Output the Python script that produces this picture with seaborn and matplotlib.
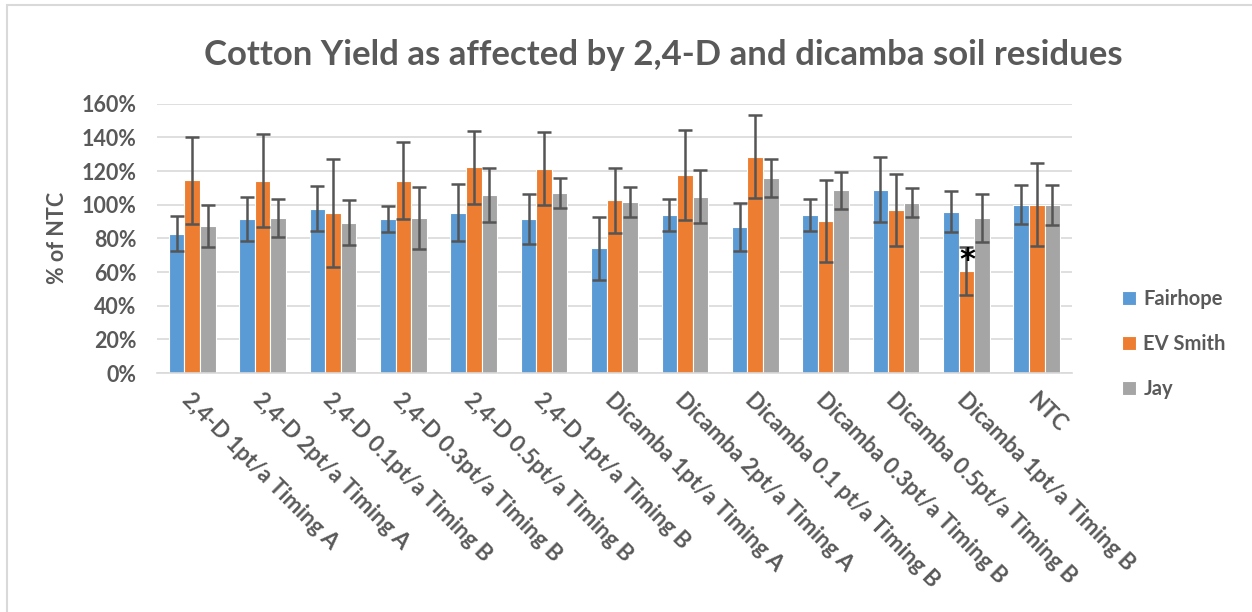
import numpy as np
import pandas as pd
import matplotlib
matplotlib.use("Agg")
import matplotlib.pyplot as plt
import seaborn as sns
from matplotlib.patches import Rectangle
import matplotlib.transforms as mtransforms

treatments = ["2,4-D 1pt/a Timing A", "2,4-D 2pt/a Timing A", "2,4-D 0.1pt/a Timing B",
              "2,4-D 0.3pt/a Timing B", "2,4-D 0.5pt/a Timing B", "2,4-D 1pt/a Timing B",
              "Dicamba 1pt/a Timing A", "Dicamba 2pt/a Timing A", "Dicamba 0.1 pt/a Timing B",
              "Dicamba 0.3pt/a Timing B", "Dicamba 0.5pt/a Timing B", "Dicamba 1pt/a Timing B",
              "NTC"]
sites = ["Fairhope", "EV Smith", "Jay"]

fairhope = [82.8, 91.7, 97.7, 91.5, 95.3, 91.5, 74.0, 93.7, 86.6, 93.7, 109.0, 95.9, 100.0]
ev_smith = [114.5, 114.3, 95.1, 114.3, 122.1, 121.5, 102.6, 117.5, 128.6, 90.3, 96.7, 60.7, 100.0]
jay = [87.3, 91.9, 89.3, 91.9, 106.0, 107.0, 101.6, 104.8, 115.9, 108.6, 101.2, 92.1, 100.0]

fairhope_err = [10.4, 13.1, 13.4, 8.0, 16.9, 14.6, 18.7, 9.6, 14.3, 9.4, 19.1, 12.0, 11.5]
ev_smith_err = [26.0, 27.7, 32.2, 22.7, 21.8, 21.5, 19.3, 26.7, 24.4, 24.6, 21.4, 14.1, 24.5]
jay_err = [12.7, 11.3, 13.2, 18.4, 16.0, 9.1, 9.2, 15.9, 11.5, 10.9, 8.7, 14.2, 11.8]

yticks = [0, 20, 40, 60, 80, 100, 120, 140, 160]
star_treatment = "Dicamba 1pt/a Timing B"
star_value = 71

colors = ["#5B9BD5", "#ED7D31", "#A5A5A5"]
text_color = "#595959"

df = pd.DataFrame({
    "treatment": treatments * 3,
    "site": [s for s in sites for _ in treatments],
    "value": fairhope + ev_smith + jay,
})
errs = [fairhope_err, ev_smith_err, jay_err]

sns.set_theme(style="white")
plt.rcParams["font.family"] = ["Lato", "DejaVu Sans"]
plt.rcParams["font.weight"] = "bold"

W, H = 1252, 612
fig = plt.figure(figsize=(W / 100, H / 100), dpi=100)
ax = fig.add_axes([157 / W, 1 - 373 / H, (1072 - 157) / W, (373 - 103.7) / H])

sns.barplot(data=df, x="treatment", y="value", hue="site", hue_order=sites,
            order=treatments, palette=colors, saturation=1, width=0.664, errorbar=None,
            edgecolor="white", linewidth=0.8, ax=ax, legend=True, zorder=2)

for cont, e in zip(ax.containers, errs):
    xs = [b.get_x() + b.get_width() / 2 for b in cont]
    ys = [b.get_height() for b in cont]
    ax.errorbar(xs, ys, yerr=e, fmt="none", ecolor="#555555", elinewidth=1.8,
                capsize=4.8, capthick=1.8, zorder=3)

si = treatments.index(star_treatment)
ax.annotate("*", xy=(si, star_value), xytext=(1, -5), textcoords="offset points",
            ha="center", va="center", fontsize=22, fontweight="bold", color="black",
            family="DejaVu Sans", zorder=4)

ax.set_xlim(-0.5, len(treatments) - 0.5)
ax.set_ylim(0, 160)
ax.set_yticks(yticks)
ax.set_yticklabels([f"{v}%" for v in yticks], fontsize=15.5, fontweight="bold", color=text_color)
ax.yaxis.grid(True, color="#D9D9D9", linewidth=1.2, zorder=0)
ax.set_axisbelow(True)
for s in ["top", "right", "left"]:
    ax.spines[s].set_visible(False)
ax.spines["bottom"].set_color("#D9D9D9")
ax.spines["bottom"].set_linewidth(1.2)
ax.tick_params(axis="y", length=0, pad=15)
ax.tick_params(axis="x", length=0, pad=8)
ax.set_xlabel("")
ax.set_ylabel("")
ax.set_xticks(range(len(treatments)))
ax.set_xticklabels(treatments, rotation=-45, ha="left", rotation_mode="anchor",
                   fontsize=16, fontweight="bold", color=text_color)
offset = mtransforms.ScaledTranslation(1 / 100, -5 / 100, fig.dpi_scale_trans)
for lab in ax.get_xticklabels():
    lab.set_transform(lab.get_transform() + offset)

handles, labels = ax.get_legend_handles_labels()
ax.legend_.remove()
fig.legend(handles, labels, loc="center left", bbox_to_anchor=(1104 / W, 1 - 344 / H),
           frameon=False, labelcolor=text_color, handlelength=0.7,
           handleheight=0.7, handletextpad=0.35, labelspacing=1.25,
           prop={"weight": "bold", "size": 14.5})

fig.text(663 / W, 1 - 55 / H, "Cotton Yield as affected by 2,4-D and dicamba soil residues",
         ha="center", va="center", fontsize=25, fontweight="bold", color=text_color)
fig.text(57 / W, 1 - 238 / H, "% of NTC", ha="center", va="center", rotation=90,
         fontsize=15.5, fontweight="bold", color=text_color)

fig.patches.append(Rectangle((7 / W, -0.1), 1.2, 1 - 5 / H + 0.1, transform=fig.transFigure,
                             fill=False, edgecolor="#D9D9D9", linewidth=1.5))

fig.savefig("out.png", dpi=100)
